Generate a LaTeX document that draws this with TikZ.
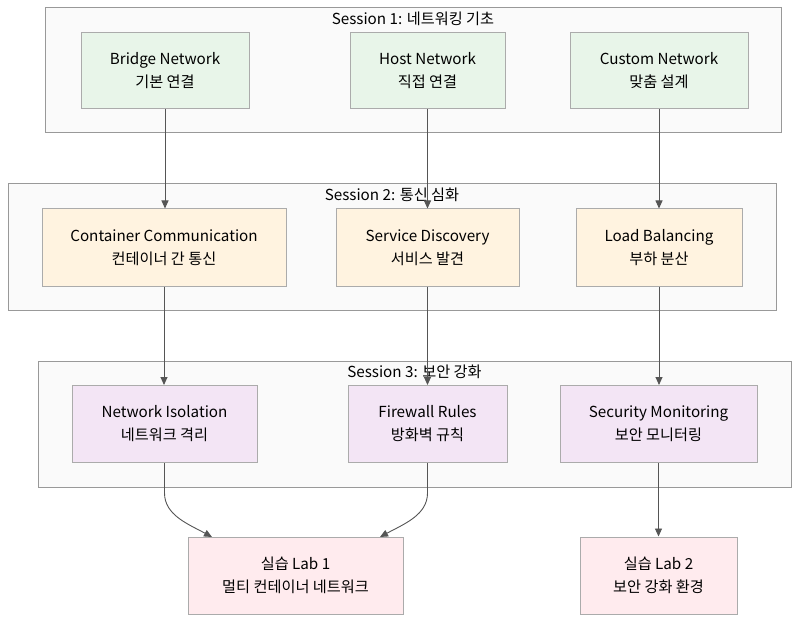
\documentclass[tikz,border=0pt]{standalone}
\usepackage{fontspec}
\setmainfont{Noto Sans CJK KR}
\usetikzlibrary{arrows.meta}
\definecolor{clfill}{HTML}{FAFAFA}
\definecolor{cldraw}{HTML}{999999}
\definecolor{ndraw}{HTML}{ABABAB}
\definecolor{gfill}{HTML}{E8F5E9}
\definecolor{ofill}{HTML}{FFF3E0}
\definecolor{pfill}{HTML}{F3E5F5}
\definecolor{rfill}{HTML}{FFEBEE}
\definecolor{edge}{HTML}{555555}
\begin{document}
\begin{tikzpicture}[x=1pt,y=-1pt,
  cluster/.style={draw=cldraw,fill=clfill,line width=1pt},
  ctitle/.style={font=\fontsize{15.2}{17}\selectfont,text=black,inner sep=0pt},
  box/.style={draw=ndraw,line width=1pt,align=center,inner sep=0pt,
    font=\fontsize{15.2}{23}\selectfont,text=black},
  gbox/.style={box,fill=gfill},
  obox/.style={box,fill=ofill},
  pbox/.style={box,fill=pfill},
  rbox/.style={box,fill=rfill},
  arr/.style={draw=edge,line width=0.9pt,-{Triangle[length=8pt,width=7pt]}}]
\useasboundingbox (0,0) rectangle (808,628);
% clusters
\draw[cluster] (45,8) rectangle (781,133);
\node[ctitle] (t1) at (413,19) {Session 1: 네트워킹 기초};
\draw[cluster] (8,184) rectangle (776,310);
\node[ctitle] (t2) at (392,195) {Session 2: 통신 심화};
\draw[cluster] (38,361) rectangle (791,487);
\node[ctitle] (t3) at (414.5,372) {Session 3: 보안 강화};
% nodes
\node[gbox,minimum width=168pt,minimum height=76pt] (bridge) at (165,71) {Bridge Network\\기본 연결};
\node[gbox,minimum width=155pt,minimum height=76pt] (host) at (427.5,71) {Host Network\\직접 연결};
\node[gbox,minimum width=178pt,minimum height=76pt] (custom) at (659,71) {Custom Network\\맞춤 설계};
\node[obox,minimum width=244pt,minimum height=77pt] (cont) at (164,247.5) {Container Communication\\컨테이너 간 통신};
\node[obox,minimum width=183pt,minimum height=77pt] (serv) at (427.5,247.5) {Service Discovery\\서비스 발견};
\node[obox,minimum width=166pt,minimum height=77pt] (load) at (659,247.5) {Load Balancing\\부하 분산};
\node[pbox,minimum width=185pt,minimum height=77pt] (iso) at (164.5,424) {Network Isolation\\네트워크 격리};
\node[pbox,minimum width=159pt,minimum height=77pt] (fw) at (427.5,424) {Firewall Rules\\방화벽 규칙};
\node[pbox,minimum width=197pt,minimum height=77pt] (sec) at (658.5,424) {Security Monitoring\\보안 모니터링};
\node[rbox,minimum width=215pt,minimum height=77pt] (lab1) at (295.5,575.5) {실습 Lab 1\\멀티 컨테이너 네트워크};
\node[rbox,minimum width=157pt,minimum height=77pt] (lab2) at (658.5,575.5) {실습 Lab 2\\보안 강화 환경};
% edges
\draw[arr] (bridge.south) -- (bridge.south |- cont.north);
\draw[arr] (host.south) -- (host.south |- serv.north);
\draw[arr] (custom.south) -- (custom.south |- load.north);
\draw[arr] (cont.south) -- (cont.south |- iso.north);
\draw[arr] (serv.south) -- (serv.south |- fw.north);
\draw[arr] (load.south) -- (load.south |- sec.north);
\draw[arr] (sec.south) -- (sec.south |- lab2.north);
\coordinate (l1a) at (212,537);
\coordinate (l1b) at (380,537);
\draw[arr] (iso.south) -- ++(0,30) .. controls +(0,22) and (188,524) .. (l1a);
\draw[arr] (fw.south) -- ++(0,30) .. controls +(0,22) and (404,524) .. (l1b);
\end{tikzpicture}
\end{document}
